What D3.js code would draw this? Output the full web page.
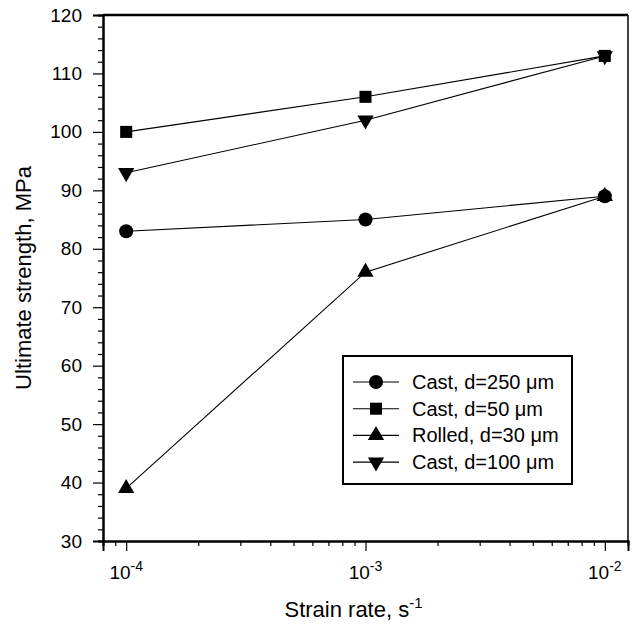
<!DOCTYPE html>
<html>
<head>
<meta charset="utf-8">
<script src="https://cdn.jsdelivr.net/npm/d3@7"></script>
<style>
  body { margin: 0; background: #fff; }
  text { font-family: "Liberation Sans", Arial, sans-serif; fill: #000; }
</style>
</head>
<body>
<div id="chart"></div>
<script>
// Data
const strainRates = [1e-4, 1e-3, 1e-2];
const cast250 = [83, 85, 89];
const cast50 = [100, 106, 113];
const rolled30 = [39, 76, 89];
const cast100 = [93, 102, 113];
const seriesNames = ["Cast, d=250 \u03bcm", "Cast, d=50 \u03bcm", "Rolled, d=30 \u03bcm", "Cast, d=100 \u03bcm"];
const yTicks = [30, 40, 50, 60, 70, 80, 90, 100, 110, 120];
const xTickExps = [-4, -3, -2];

const svgW = 634, svgH = 626;
const margin = { top: 15, right: 6, bottom: 85, left: 103 };
const width = svgW - margin.left - margin.right;
const height = svgH - margin.top - margin.bottom;

const svg = d3.select("#chart").append("svg")
  .attr("width", svgW).attr("height", svgH);
const g = svg.append("g").attr("transform", `translate(${margin.left},${margin.top})`);

const x = d3.scaleLog().domain([8e-5, 1.25e-2]).range([0, width]);
const y = d3.scaleLinear().domain([30, 120]).range([height, 0]);

// frame (top and right)
g.append("line").attr("x1", 0).attr("x2", width).attr("y1", 0).attr("y2", 0)
  .attr("stroke", "#000").attr("stroke-width", 2.5);
g.append("line").attr("x1", width).attr("x2", width).attr("y1", 0).attr("y2", height)
  .attr("stroke", "#000").attr("stroke-width", 1.5);

// y axis: minor ticks every 2, major every 10
const yMinor = d3.range(30, 121, 2).filter(v => v % 10 !== 0);
const yMinorAxis = g.append("g")
  .call(d3.axisLeft(y).tickValues(yMinor).tickSize(5).tickFormat(""));
const yAxis = g.append("g")
  .call(d3.axisLeft(y).tickValues(yTicks).tickSize(10).tickPadding(11).tickFormat(d3.format("d")));

// x axis
const xMinor = [];
[-5, -4, -3].forEach(e => { for (let k = 2; k <= 9; k++) xMinor.push(k * Math.pow(10, e)); });
const xMinorVals = xMinor.filter(v => v >= 8e-5 && v <= 1.25e-2);
const xMinorAxis = g.append("g").attr("transform", `translate(0,${height})`)
  .call(d3.axisBottom(x).tickValues(xMinorVals).tickSize(5).tickFormat(""));
const xAxis = g.append("g").attr("transform", `translate(0,${height})`)
  .call(d3.axisBottom(x).tickValues(xTickExps.map(e => Math.pow(10, e))).tickSize(10).tickFormat(""));

[yMinorAxis, yAxis, xMinorAxis, xAxis].forEach(a => {
  a.select(".domain").attr("stroke", "#000").attr("stroke-width", 2);
  a.selectAll(".tick line").attr("stroke", "#000").attr("stroke-width", 1.2);
});
yAxis.selectAll(".tick text").style("font-size", "19px");

// x tick labels with superscripts
xTickExps.forEach(e => {
  const t = g.append("text")
    .attr("x", x(Math.pow(10, e)))
    .attr("y", height + 38)
    .attr("text-anchor", "middle")
    .style("font-size", "19px");
  t.append("tspan").text("10");
  t.append("tspan").attr("dy", -8).style("font-size", "14px").text("-" + (-e));
});

// axis titles
const xt = g.append("text")
  .attr("x", width / 2 - 12).attr("y", height + 76)
  .attr("text-anchor", "middle").style("font-size", "22px");
xt.append("tspan").text("Strain rate, s");
xt.append("tspan").attr("dy", -9).style("font-size", "15px").text("-1");

g.append("text")
  .attr("transform", `translate(${-72},${height / 2}) rotate(-90)`)
  .attr("text-anchor", "middle").style("font-size", "22px")
  .text("Ultimate strength, MPa");

// series
const allSeries = [cast250, cast50, rolled30, cast100];
const symbols = [
  { type: d3.symbolCircle, size: 155, rot: 0 },
  { type: d3.symbolSquare, size: 145, rot: 0 },
  { type: d3.symbolTriangle, size: 115, rot: 0 },
  { type: d3.symbolTriangle, size: 115, rot: 180 }
];

const line = d3.line().x((d, i) => x(strainRates[i])).y(d => y(d));

allSeries.forEach((vals, si) => {
  g.append("path").datum(vals)
    .attr("d", line).attr("fill", "none")
    .attr("stroke", "#000").attr("stroke-width", 1.1);
});
allSeries.forEach((vals, si) => {
  const s = symbols[si];
  g.selectAll(null).data(vals).enter().append("path")
    .attr("d", d3.symbol().type(s.type).size(s.size))
    .attr("transform", (d, i) => `translate(${x(strainRates[i])},${y(d)}) rotate(${s.rot})`)
    .attr("fill", "#000");
});

// legend
const lg = g.append("g").attr("transform", `translate(${343 - margin.left},${356 - margin.top})`);
lg.append("rect").attr("width", 229).attr("height", 128)
  .attr("fill", "#fff").attr("stroke", "#000").attr("stroke-width", 2);
seriesNames.forEach((name, i) => {
  const ry = 26 + i * 26.7;
  const s = symbols[i];
  lg.append("line").attr("x1", 10).attr("x2", 56).attr("y1", ry).attr("y2", ry)
    .attr("stroke", "#000").attr("stroke-width", 1.1);
  lg.append("path")
    .attr("d", d3.symbol().type(s.type).size(s.size))
    .attr("transform", `translate(33,${ry}) rotate(${s.rot})`)
    .attr("fill", "#000");
  lg.append("text").attr("x", 69).attr("y", ry + 7)
    .style("font-size", "20px").text(name);
});
</script>
</body>
</html>
